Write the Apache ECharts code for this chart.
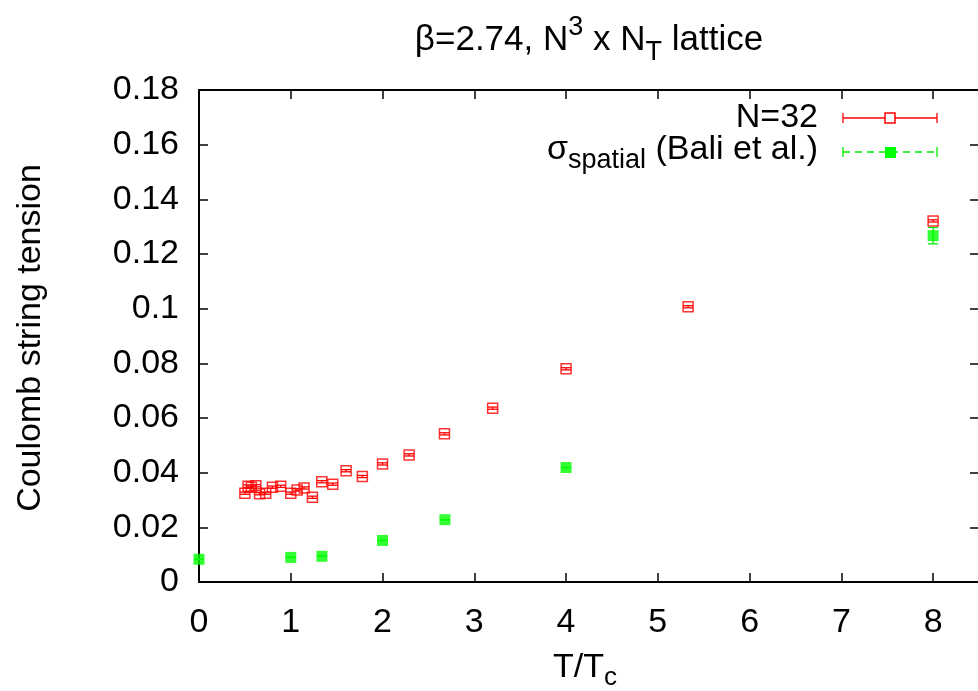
<!DOCTYPE html>
<html>
<head>
<meta charset="utf-8">
<script src="https://cdn.jsdelivr.net/npm/echarts@6/dist/echarts.min.js"></script>
<style>
html,body{margin:0;padding:0;background:#fff;}
#main{width:978px;height:691px;}
</style>
</head>
<body>
<div id="main"></div>
<script>
// N=32 Coulomb string tension
const redX   = [0.50, 0.535, 0.57, 0.62, 0.66, 0.727, 0.80, 0.89, 1.00, 1.07, 1.145, 1.236, 1.338, 1.458, 1.603, 1.78, 2.00, 2.29, 2.675, 3.20, 4.00, 5.33, 8.00];
const redY   = [0.0325, 0.0350, 0.0347, 0.0352, 0.0323, 0.0325, 0.0347, 0.0350, 0.0325, 0.0337, 0.0344, 0.0310, 0.0367, 0.0358, 0.0407, 0.0386, 0.0432, 0.0465, 0.0542, 0.0636, 0.0780, 0.1007, 0.1321];
const redErr = [0.0004, 0.0005, 0.0004, 0.0004, 0.0004, 0.0004, 0.0004, 0.0004, 0.0004, 0.0004, 0.0004, 0.0004, 0.0004, 0.0004, 0.0004, 0.0004, 0.0004, 0.0004, 0.0004, 0.0004, 0.0004, 0.0004, 0.0004];
// sigma spatial (Bali et al.)
const greenX   = [0.00, 1.00, 1.34, 2.00, 2.68, 4.00, 8.00];
const greenY   = [0.0083, 0.0090, 0.0094, 0.0152, 0.0228, 0.0419, 0.1267];
const greenErr = [0.0000, 0.0000, 0.0000, 0.0000, 0.0000, 0.0000, 0.0030];

const xMin = 0, xMax = 8.5, xStep = 1;
const yMin = 0, yMax = 0.18, yStep = 0.02;

const FONT = 'Liberation Sans, Arial, Helvetica, sans-serif';
const FS = 34;

function errData(xs, ys, es){ return xs.map((x,i)=>[x, ys[i], es[i]]); }
function ptData(xs, ys){ return xs.map((x,i)=>[x, ys[i]]); }

function errRender(color){
  return function(params, api){
    const x = api.value(0), y = api.value(1), e = api.value(2);
    const lo = api.coord([x, y - e]);
    const hi = api.coord([x, y + e]);
    const w = 5;
    const st = {stroke: color, lineWidth: 1.3};
    return {type:'group', children:[
      {type:'line', shape:{x1:lo[0], y1:lo[1], x2:hi[0], y2:hi[1]}, style:st},
      {type:'line', shape:{x1:lo[0]-w, y1:lo[1], x2:lo[0]+w, y2:lo[1]}, style:st},
      {type:'line', shape:{x1:hi[0]-w, y1:hi[1], x2:hi[0]+w, y2:hi[1]}, style:st}
    ]};
  };
}

const axisLineStyle = {color:'#000', width:2};
const tickStyle = {color:'#000', width:1.5};

const chart = echarts.init(document.getElementById('main'), null, {renderer:'canvas'});
chart.setOption({
  backgroundColor:'#fff',
  animation:false,
  grid:{left:199, width:780, top:90, bottom:109, containLabel:false, outerBoundsMode:'none'},
  xAxis:[
    {type:'value', min:xMin, max:xMax, interval:xStep, position:'bottom',
     axisLine:{onZero:false, lineStyle:axisLineStyle},
     axisTick:{inside:true, length:9, lineStyle:tickStyle},
     axisLabel:{fontFamily:FONT, fontSize:FS, color:'#000', margin:24, showMaxLabel:false,
       formatter:v=> Number.isInteger(v) ? String(v) : ''},
     splitLine:{show:false}},
    {type:'value', min:xMin, max:xMax, interval:xStep, position:'top',
     axisLine:{onZero:false, lineStyle:axisLineStyle},
     axisTick:{inside:true, length:9, lineStyle:tickStyle},
     axisLabel:{show:false}, splitLine:{show:false}}
  ],
  yAxis:[
    {type:'value', min:yMin, max:yMax, interval:yStep, position:'left',
     axisLine:{onZero:false, lineStyle:axisLineStyle},
     axisTick:{inside:true, length:9, lineStyle:tickStyle},
     axisLabel:{fontFamily:FONT, fontSize:FS, color:'#000', margin:20,
       formatter:v=> String(+v.toFixed(4))},
     splitLine:{show:false}},
    {type:'value', min:yMin, max:yMax, interval:yStep, position:'right',
     axisLine:{onZero:false, lineStyle:axisLineStyle},
     axisTick:{inside:true, length:9, lineStyle:tickStyle},
     axisLabel:{show:false}, splitLine:{show:false}}
  ],
  series:[
    {name:'N=32', type:'scatter', data:ptData(redX, redY), symbol:'rect', symbolSize:10, clip:false,
     itemStyle:{color:'rgba(0,0,0,0)', borderColor:'#ff0000', borderWidth:1.5}, z:3},
    {type:'custom', data:errData(redX, redY, redErr), renderItem:errRender('#ff0000'), clip:false, z:4},
    {type:'custom', data:errData(greenX, greenY, greenErr), renderItem:errRender('#00ee00'), clip:false, z:2},
    {name:'sigma', type:'scatter', data:ptData(greenX, greenY), symbol:'rect', symbolSize:11, clip:false,
     itemStyle:{color:'#00ff00'}, z:3}
  ],
  graphic:[
    // title
    {type:'text', x:589, y:40, style:{
      text:'{a|β=2.74, N}{sup|3}{a| x N}{sub|T}{a| lattice}',
      align:'center', verticalAlign:'middle',
      rich:{
        a:{fontFamily:FONT, fontSize:35, fill:'#000', lineHeight:52, verticalAlign:'middle'},
        sup:{fontFamily:FONT, fontSize:27, fill:'#000', lineHeight:27, verticalAlign:'top'},
        sub:{fontFamily:FONT, fontSize:27, fill:'#000', lineHeight:27, verticalAlign:'bottom'}
      }}},
    // y axis name
    {type:'text', x:31, y:338, rotation:Math.PI/2, style:{
      text:'Coulomb string tension', fontFamily:FONT, fontSize:FS, fill:'#000',
      align:'center', verticalAlign:'middle'}},
    // x axis name
    {type:'text', x:585, y:668, style:{
      text:'{a|T/T}{sub|c}', align:'center', verticalAlign:'middle',
      rich:{
        a:{fontFamily:FONT, fontSize:FS, fill:'#000', lineHeight:46, verticalAlign:'middle'},
        sub:{fontFamily:FONT, fontSize:26, fill:'#000', lineHeight:26, verticalAlign:'bottom'}
      }}},
    // legend entry 1
    {type:'text', x:818, y:118, style:{
      text:'N=32', fontFamily:FONT, fontSize:FS, fill:'#000', align:'right', verticalAlign:'middle'}},
    {type:'line', shape:{x1:843, y1:118, x2:937, y2:118}, style:{stroke:'#ff0000', lineWidth:1.3}},
    {type:'line', shape:{x1:843, y1:113, x2:843, y2:123}, style:{stroke:'#ff0000', lineWidth:1.3}},
    {type:'line', shape:{x1:937, y1:113, x2:937, y2:123}, style:{stroke:'#ff0000', lineWidth:1.3}},
    {type:'rect', shape:{x:885, y:113, width:10, height:10}, style:{fill:'#fff', stroke:'#ff0000', lineWidth:1.5}},
    // legend entry 2
    {type:'text', x:818, y:150, style:{
      text:'{a|σ}{sub|spatial}{a| (Bali et al.)}', align:'right', verticalAlign:'middle',
      rich:{
        a:{fontFamily:FONT, fontSize:FS, fill:'#000', lineHeight:48, verticalAlign:'middle'},
        sub:{fontFamily:FONT, fontSize:27, fill:'#000', lineHeight:27, verticalAlign:'bottom'}
      }}},
    {type:'line', shape:{x1:843, y1:152, x2:937, y2:152}, style:{stroke:'#00ee00', lineWidth:1.3, lineDash:[7,5]}},
    {type:'line', shape:{x1:843, y1:147, x2:843, y2:157}, style:{stroke:'#00ee00', lineWidth:1.3}},
    {type:'line', shape:{x1:937, y1:147, x2:937, y2:157}, style:{stroke:'#00ee00', lineWidth:1.3}},
    {type:'rect', shape:{x:885, y:147, width:11, height:11}, style:{fill:'#00ff00'}}
  ]
});
</script>
</body>
</html>
